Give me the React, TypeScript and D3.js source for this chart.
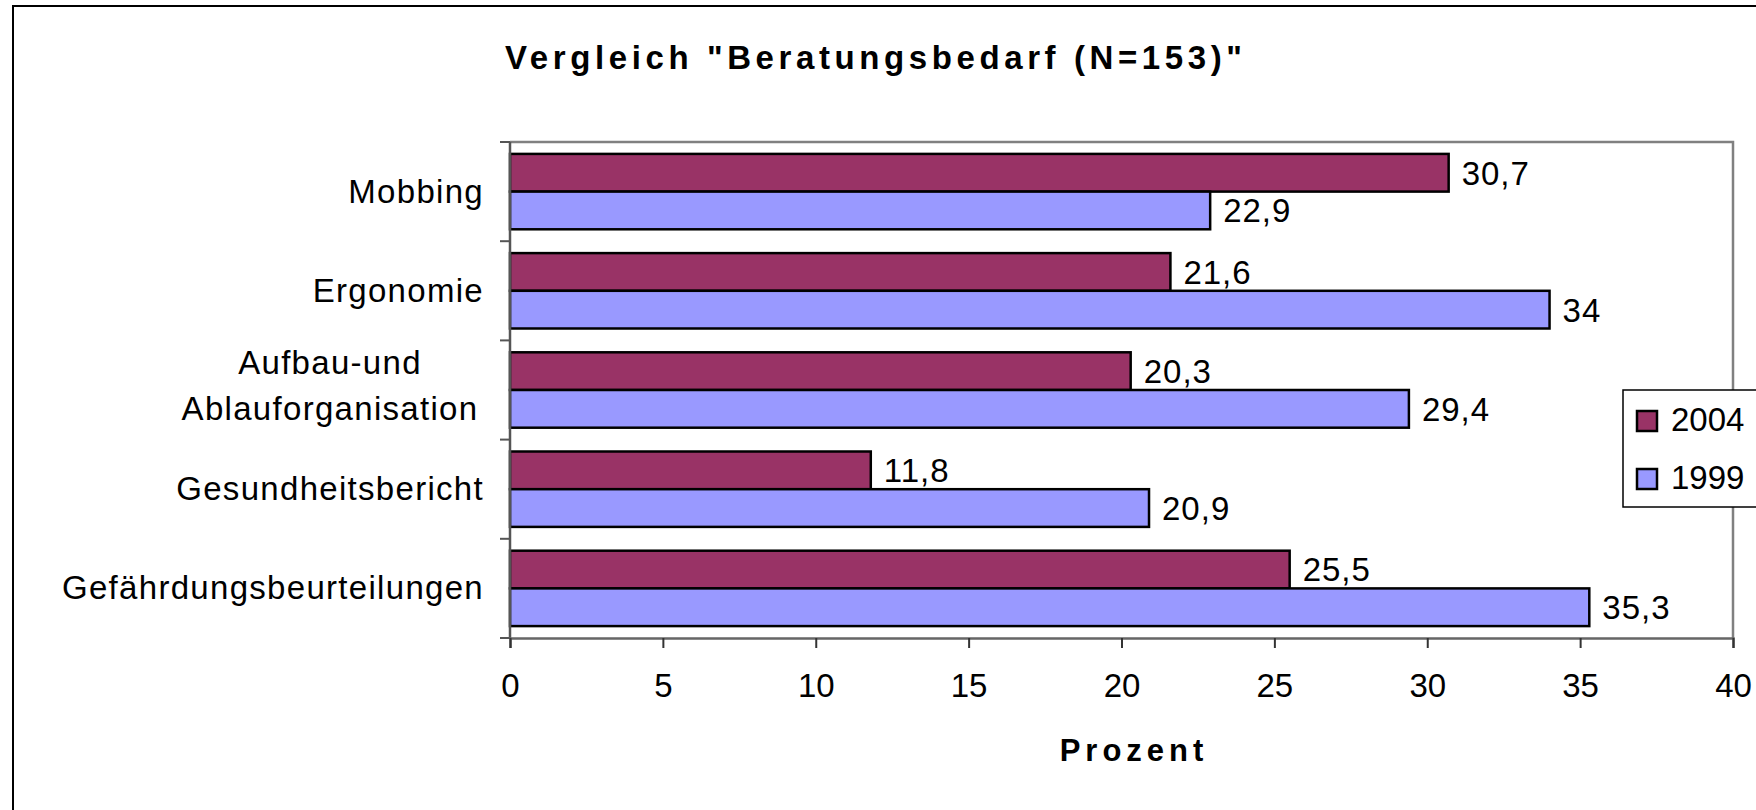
import React, { useEffect, useRef } from 'react'
import * as d3 from 'd3'

// values (Prozent)
const categories = [
  'Mobbing',
  'Ergonomie',
  'Aufbau-und Ablauforganisation',
  'Gesundheitsbericht',
  'Gefährdungsbeurteilungen',
]
const seriesNames = ['2004', '1999']
const values2004 = [30.7, 21.6, 20.3, 11.8, 25.5]
const values1999 = [22.9, 34, 29.4, 20.9, 35.3]
const xTicks = [0, 5, 10, 15, 20, 25, 30, 35, 40]
const seriesColors = ['#993366', '#9999FF']

const title = 'Vergleich "Beratungsbedarf (N=153)"'
const xTitle = 'Prozent'

const App: React.FC = () => {
  const svgRef = useRef<SVGSVGElement>(null)

  useEffect(() => {
    const width = 1756
    const height = 810
    const left = 510
    const right = 1733
    const top = 142
    const bottom = 638
    const font = '"Liberation Sans", Arial, sans-serif'

    const svg = d3.select(svgRef.current).attr('width', width).attr('height', height)
    svg.selectAll('*').remove()

    // outer chart frame (runs past the window on right and bottom)
    svg.append('rect')
      .attr('x', 13).attr('y', 6)
      .attr('width', 1800).attr('height', 900)
      .attr('fill', 'white').attr('stroke', '#000').attr('stroke-width', 2)

    const x = d3.scaleLinear([0, 40], [left, right])
    const y = d3.scaleBand(categories, [top, bottom]).paddingInner(0.24).paddingOuter(0.12)
    const ySub = d3.scaleBand(seriesNames, [0, y.bandwidth()])
    const step = y.step()

    // plot area border (top + right)
    svg.append('path')
      .attr('d', `M${left},${top}H${right}V${bottom}`)
      .attr('fill', 'none').attr('stroke', '#808080').attr('stroke-width', 2.5)

    const rows = categories.map((c, i) => ({ c, vals: [values2004[i], values1999[i]] }))

    const groups = svg.selectAll('g.row')
      .data(rows)
      .enter()
      .append('g')
      .attr('class', 'row')
      .attr('transform', (d) => `translate(0,${y(d.c)})`)

    groups.selectAll('rect')
      .data((d) => d.vals.map((v, j) => ({ v, s: seriesNames[j], j })))
      .enter()
      .append('rect')
      .attr('x', x(0))
      .attr('y', (d) => ySub(d.s) as number)
      .attr('width', (d) => x(d.v) - x(0))
      .attr('height', ySub.bandwidth())
      .attr('fill', (d) => seriesColors[d.j])
      .attr('stroke', '#000')
      .attr('stroke-width', 2.5)

    groups.selectAll('text.val')
      .data((d) => d.vals.map((v, j) => ({ v, s: seriesNames[j] })))
      .enter()
      .append('text')
      .attr('class', 'val')
      .attr('x', (d) => x(d.v) + 13)
      .attr('y', (d) => (ySub(d.s) as number) + ySub.bandwidth() / 2)
      .attr('dy', '0.36em')
      .attr('font-family', font)
      .attr('font-size', 33)
      .attr('letter-spacing', 1)
      .text((d) => String(d.v).replace('.', ','))

    // y axis: line + ticks at band boundaries
    svg.append('line')
      .attr('x1', left).attr('x2', left).attr('y1', top).attr('y2', bottom)
      .attr('stroke', '#555').attr('stroke-width', 2.5)
    d3.range(categories.length + 1).forEach((i) => {
      const ty = top + i * step
      svg.append('line')
        .attr('x1', left - 10).attr('x2', left).attr('y1', ty).attr('y2', ty)
        .attr('stroke', '#555').attr('stroke-width', 2)
    })

    // category labels
    categories.forEach((c) => {
      const cy = (y(c) as number) + y.bandwidth() / 2
      const lines = c === 'Aufbau-und Ablauforganisation' ? ['Aufbau-und', 'Ablauforganisation'] : [c]
      const t = svg.append('text')
        .attr('font-family', font)
        .attr('font-size', 33)
        .attr('letter-spacing', 1.3)
        .attr('text-anchor', lines.length > 1 ? 'middle' : 'end')
      if (lines.length > 1) {
        t.append('tspan').attr('x', 330).attr('y', cy - 16).text(lines[0])
        t.append('tspan').attr('x', 330).attr('y', cy + 30).text(lines[1])
      } else {
        t.attr('x', 484).attr('y', cy + 11).text(lines[0])
      }
    })

    // x axis
    const xAxis = d3.axisBottom(x).tickValues(xTicks).tickSize(10).tickPadding(26)
      .tickFormat((d) => String(d))
    const gx = svg.append('g').attr('transform', `translate(0,${bottom})`).call(xAxis)
    gx.select('.domain').attr('stroke', '#666').attr('stroke-width', 2.5)
    gx.selectAll('.tick line').attr('stroke', '#333').attr('stroke-width', 2)
    gx.selectAll('.tick text')
      .attr('font-family', font)
      .attr('font-size', 33)
      .attr('fill', '#000')

    // title and axis title
    svg.append('text')
      .attr('x', 505).attr('y', 69)
      .attr('font-family', font)
      .attr('font-weight', 'bold')
      .attr('font-size', 33)
      .attr('letter-spacing', 4.6)
      .text(title)

    svg.append('text')
      .attr('x', 1134).attr('y', 761)
      .attr('text-anchor', 'middle')
      .attr('font-family', font)
      .attr('font-weight', 'bold')
      .attr('font-size', 31)
      .attr('letter-spacing', 5)
      .text(xTitle)

    // legend box
    const lg = svg.append('g')
    lg.append('rect')
      .attr('x', 1623).attr('y', 390).attr('width', 200).attr('height', 117)
      .attr('fill', 'white').attr('stroke', '#000').attr('stroke-width', 1.5)
    seriesNames.forEach((s, i) => {
      const my = 411 + i * 58
      lg.append('rect')
        .attr('x', 1637).attr('y', my).attr('width', 20).attr('height', 20)
        .attr('fill', seriesColors[i]).attr('stroke', '#000').attr('stroke-width', 2.5)
      lg.append('text')
        .attr('x', 1671).attr('y', my + 20)
        .attr('font-family', font)
        .attr('font-size', 33)
        .text(s)
    })
  }, [])

  return (
    <div style={{ position: 'absolute', left: 0, top: 0 }}>
      <svg ref={svgRef} style={{ display: 'block' }} />
    </div>
  )
}

export default App
